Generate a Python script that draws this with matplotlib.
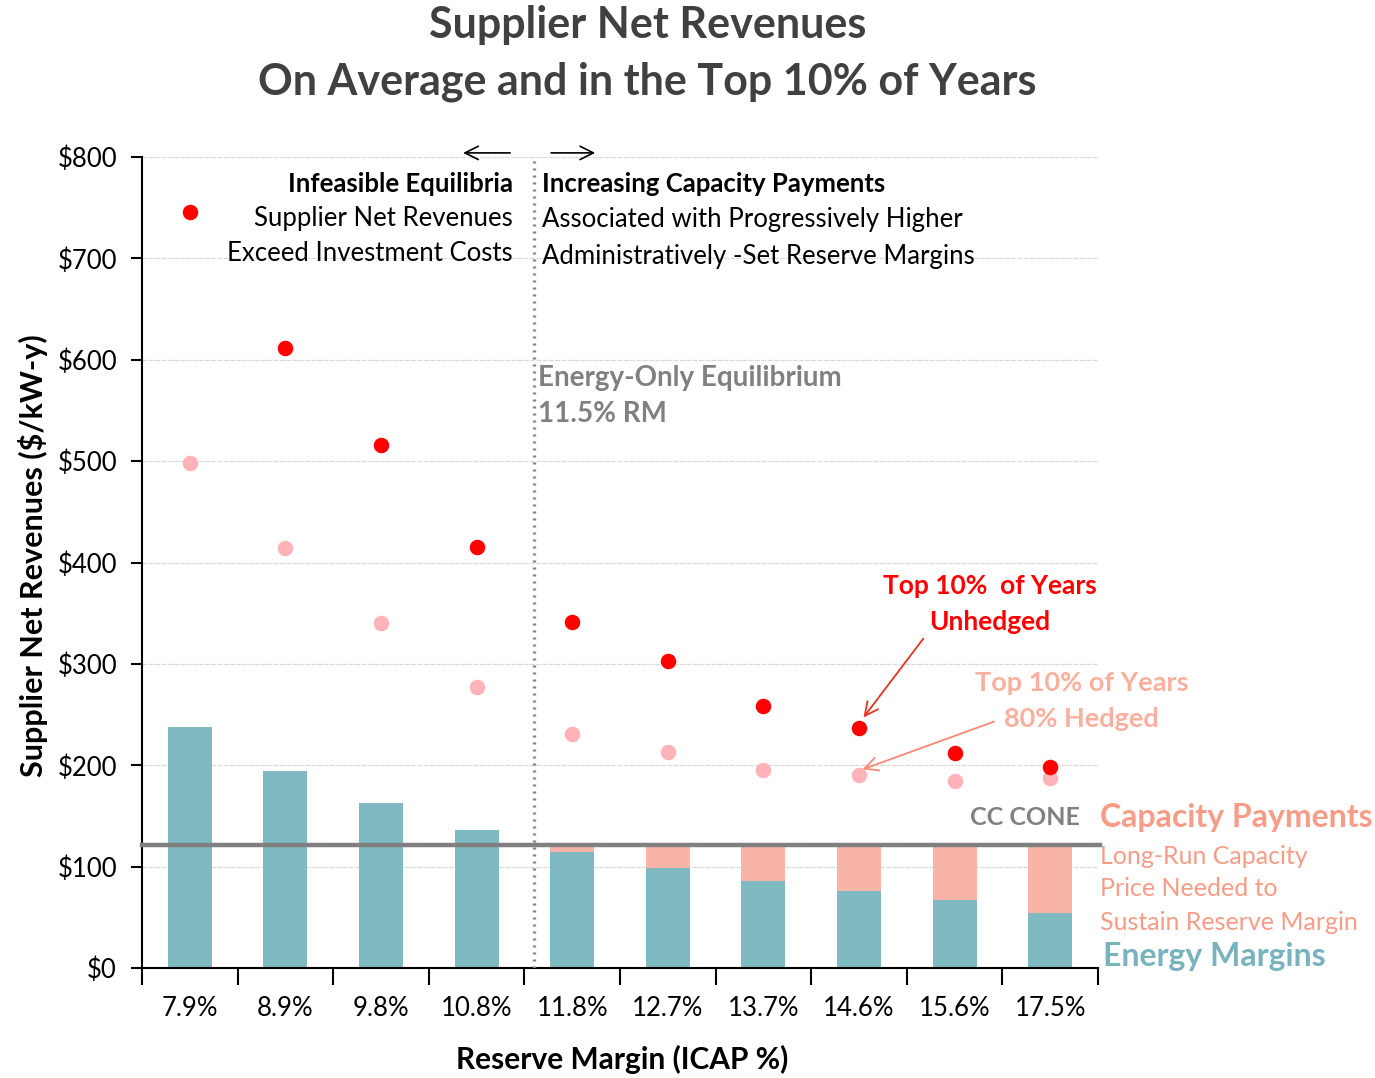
import numpy as np
import matplotlib.pyplot as plt

plt.rcParams['font.family'] = ['Lato', 'DejaVu Sans']

# reserve margin categories
margins = ['7.9%', '8.9%', '9.8%', '10.8%', '11.8%', '12.7%', '13.7%', '14.6%', '15.6%', '17.5%']
# average energy margins ($/kW-y)
energy = [238, 194, 163, 136, 114, 99, 86, 76, 67, 54]
# net CONE level
cone = 121
# top 10% of years, unhedged and 80% hedged
top_unhedged = [746, 612, 516, 415, 341, 303, 258, 237, 212, 198]
top_hedged = [498, 414, 340, 277, 231, 213, 195, 190, 184, 187]

capacity = [max(cone - e, 0) for e in energy]

teal = '#7FB9C1'
salmon = '#F8B4A6'
salmon_txt = '#F79C86'
pink = '#FFB3B8'
gray = '#808080'

fig = plt.figure(figsize=(13.75, 10.78), dpi=100)
ax = fig.add_axes([0.1033, 0.102, 0.6952, 0.7524])

x = np.arange(len(margins))
ax.bar(x, energy, width=0.46, color=teal, zorder=2)
ax.bar(x, capacity, width=0.46, bottom=energy, color=salmon, zorder=2)
ax.scatter(x, top_hedged, s=125, color=pink, zorder=4, linewidths=0)
ax.scatter(x, top_unhedged, s=125, color='#FF0000', zorder=5, linewidths=0)

ax.set_xlim(-0.5, 9.5)
ax.set_ylim(0, 800)
ax.set_yticks(range(0, 801, 100))
ax.set_yticklabels(['${}'.format(v) for v in range(0, 801, 100)])
ax.yaxis.grid(True, color='#DADADA', lw=0.9, ls='--', dashes=(4, 1), zorder=0)
ax.set_axisbelow(True)

ax.set_xticks(np.arange(-0.5, 10, 1))
ax.set_xticklabels([])
ax.set_xticks(x, minor=True)
ax.set_xticklabels(margins, minor=True)
ax.tick_params(axis='x', which='major', length=12, width=1.5, direction='out')
ax.tick_params(axis='x', which='minor', length=0, pad=20, labelsize=18.5)
ax.tick_params(axis='y', length=8, width=1.5, labelsize=18.5, pad=10)

for s in ['top', 'right']:
    ax.spines[s].set_visible(False)
for s in ['left', 'bottom']:
    ax.spines[s].set_linewidth(1.5)

ax.set_ylabel('Supplier Net Revenues ($/kW-y)', fontsize=22, fontweight='bold', va='center')
ax.yaxis.set_label_coords(-0.114, 0.508)
ax.set_xlabel('Reserve Margin (ICAP %)', fontsize=21.5, fontweight='bold', va='center')
ax.xaxis.set_label_coords(0.502, -0.113)

fig.text(0.471, 1 - 25 / 1078, 'Supplier Net Revenues', ha='center', va='center',
         fontsize=31, fontweight='bold', color='#404040')
fig.text(0.471, 1 - 82 / 1078, 'On Average and in the Top 10% of Years', ha='center', va='center',
         fontsize=31, fontweight='bold', color='#404040')

# CC CONE line and energy-only equilibrium divider
ax.plot([-0.5, 9.52], [cone, cone], color=gray, lw=3.2, zorder=6, clip_on=False)
ax.plot([3.6, 3.6], [0, 800], color=gray, lw=2.4, ls=(0, (0.6, 1.5)), zorder=3)

ax.annotate('', xy=(2.83, 804), xytext=(3.38, 804), annotation_clip=False,
            arrowprops=dict(arrowstyle='->', color='black', lw=1.2, mutation_scale=24))
ax.annotate('', xy=(4.27, 804), xytext=(3.75, 804), annotation_clip=False,
            arrowprops=dict(arrowstyle='->', color='black', lw=1.2, mutation_scale=24))

ax.text(3.38, 773, 'Infeasible Equilibria', ha='right', va='center', fontsize=18.5, fontweight='bold')
ax.text(3.38, 739, 'Supplier Net Revenues', ha='right', va='center', fontsize=18.5)
ax.text(3.38, 705, 'Exceed Investment Costs', ha='right', va='center', fontsize=18.5)

ax.text(3.68, 773, 'Increasing Capacity Payments', ha='left', va='center', fontsize=18.5, fontweight='bold')
ax.text(3.68, 738, 'Associated with Progressively Higher', ha='left', va='center', fontsize=18.5)
ax.text(3.68, 702, 'Administratively -Set Reserve Margins', ha='left', va='center', fontsize=18.5)

ax.text(3.64, 582, 'Energy-Only Equilibrium', ha='left', va='center', fontsize=20,
        fontweight='bold', color=gray)
ax.text(3.64, 546, '11.5% RM', ha='left', va='center', fontsize=20, fontweight='bold', color=gray)

ax.text(8.37, 377, 'Top 10%  of Years', ha='center', va='center', fontsize=19,
        fontweight='bold', color='#FF0000')
ax.text(8.37, 341, 'Unhedged', ha='center', va='center', fontsize=19, fontweight='bold', color='#FF0000')
ax.annotate('', xy=(7.03, 245), xytext=(7.69, 327),
            arrowprops=dict(arrowstyle='->', color='#E8321E', lw=1.3, mutation_scale=24))

ax.text(9.33, 281, 'Top 10% of Years', ha='center', va='center', fontsize=19.5,
        fontweight='bold', color='#F9B09E', clip_on=False)
ax.text(9.33, 246, '80% Hedged', ha='center', va='center', fontsize=19.5,
        fontweight='bold', color='#F9B09E', clip_on=False)
ax.annotate('', xy=(7.01, 195), xytext=(8.44, 244),
            arrowprops=dict(arrowstyle='->', color='#F58A74', lw=1.3, mutation_scale=24))

ax.text(9.31, 148, 'CC CONE', ha='right', va='center', fontsize=18, fontweight='bold', color=gray)
ax.text(9.52, 148, 'Capacity Payments', ha='left', va='center', fontsize=23,
        fontweight='bold', color=salmon_txt, clip_on=False)
for yy, t in zip([110, 78, 45], ['Long-Run Capacity', 'Price Needed to', 'Sustain Reserve Margin']):
    ax.text(9.52, yy, t, ha='left', va='center', fontsize=18, color=salmon_txt, clip_on=False)
ax.text(9.55, 11, 'Energy Margins', ha='left', va='center', fontsize=23,
        fontweight='bold', color='#79B3BD', clip_on=False)

fig.savefig('out.png', dpi=100)
